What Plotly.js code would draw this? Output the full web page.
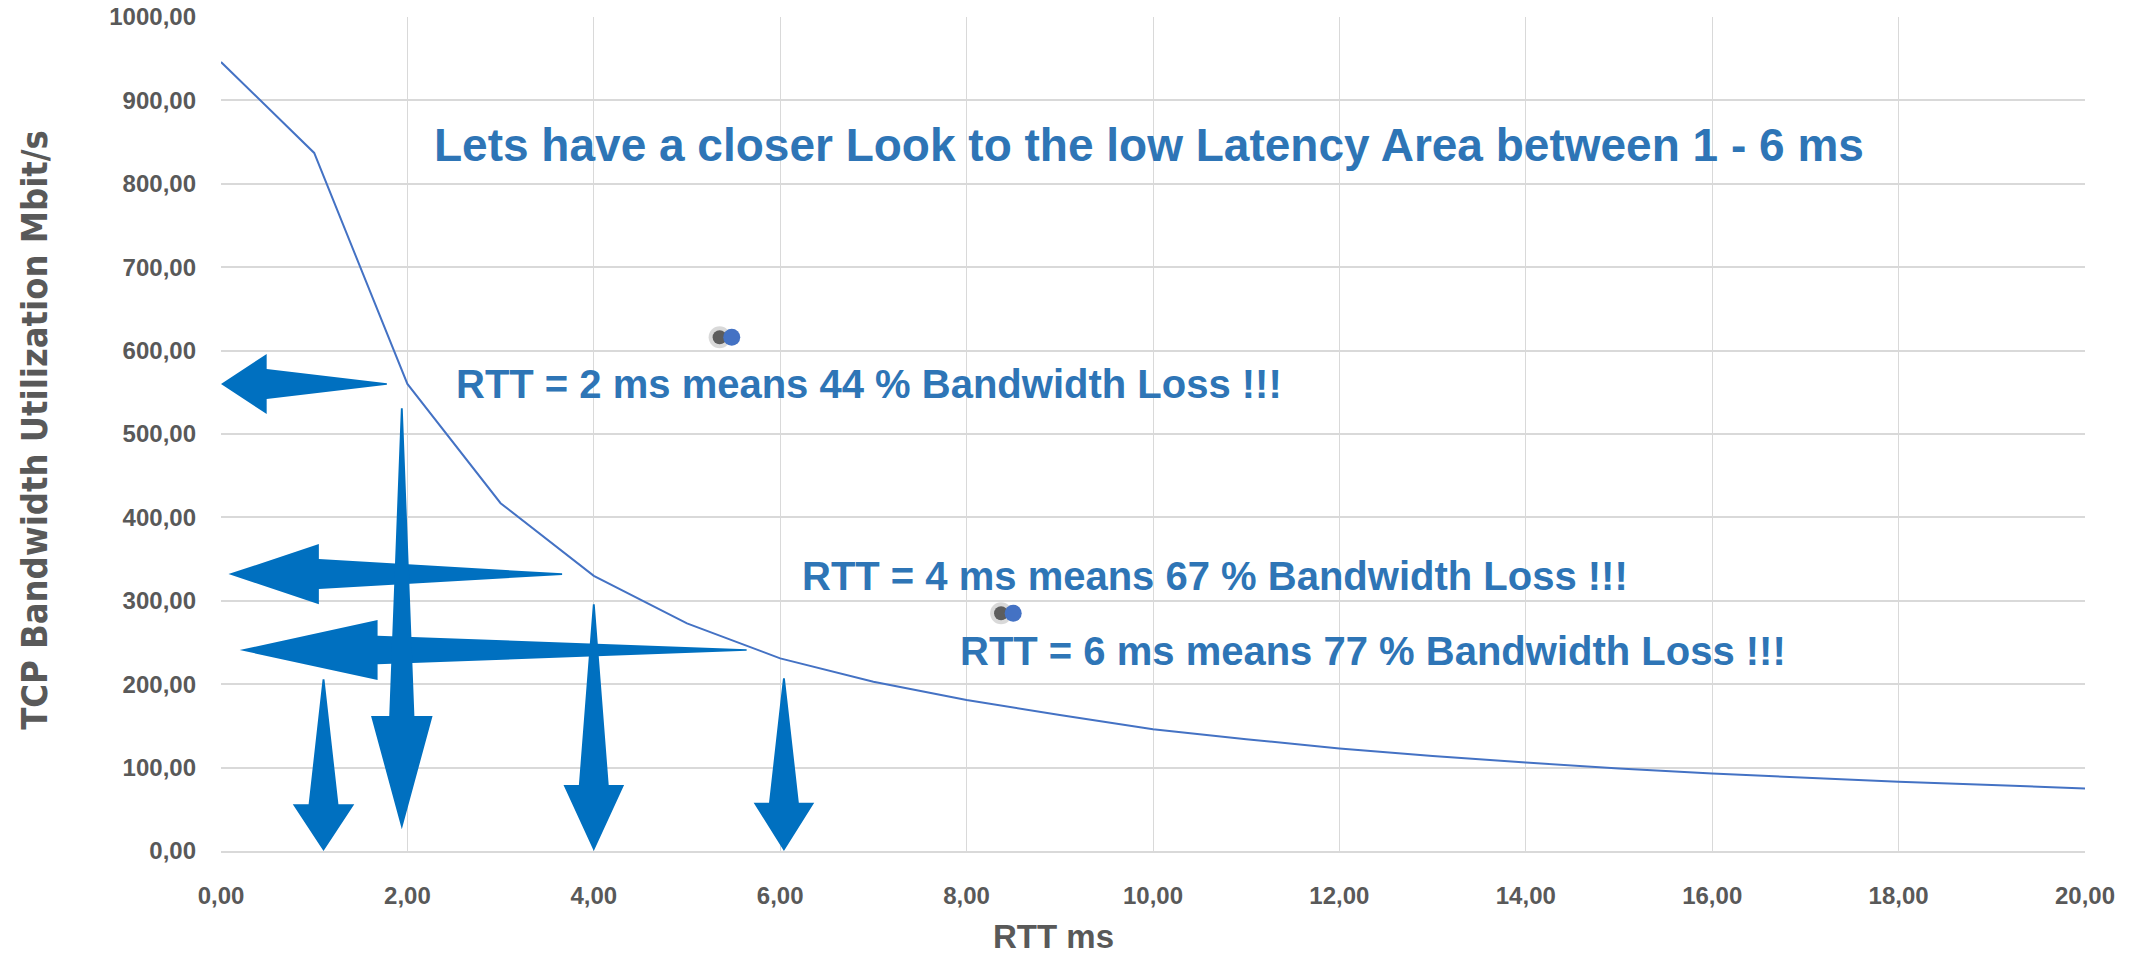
<!DOCTYPE html>
<html>
<head>
<meta charset="utf-8">
<script src="https://cdn.plot.ly/plotly-3.0.1.min.js"></script>
<style>
  html, body { margin: 0; padding: 0; background: #ffffff; }
  #chart { width: 2136px; height: 955px; }
</style>
</head>
<body>
<div id="chart"></div>
<script>
// ---- data ----
const rttMs = [0, 1, 2, 3, 4, 5, 6, 7, 8, 9, 10, 11, 12, 13, 14, 15, 16, 17, 18, 19, 20];
const bandwidthMbit = [946, 837, 560, 417, 330, 273, 231, 203, 181, 163, 146, 134, 123, 114, 106, 99, 93, 88, 83, 79, 75];

const dotX = [5.48, 8.50];
const dotY = [616, 285];

const xTickVals = [0, 2, 4, 6, 8, 10, 12, 14, 16, 18, 20];
const xTickText = ["0,00", "2,00", "4,00", "6,00", "8,00", "10,00", "12,00", "14,00", "16,00", "18,00", "20,00"];
const yTickVals = [0, 100, 200, 300, 400, 500, 600, 700, 800, 900, 1000];
const yTickText = ["0,00", "100,00", "200,00", "300,00", "400,00", "500,00", "600,00", "700,00", "800,00", "900,00", "1000,00"];

const titleText = "Lets have a closer Look to the low Latency Area between 1 - 6 ms";
const noteTexts = [
  "RTT = 2 ms means 44 % Bandwidth Loss !!!",
  "RTT = 4 ms means 67 % Bandwidth Loss !!!",
  "RTT = 6 ms means 77 % Bandwidth Loss !!!"
];
const noteX = [2.50, 6.21, 7.91];
const noteY = [560, 330, 240];

// block arrows (data units): tip, head base, tail, shaft half width, head half width
const leftArrowTipX  = [0.00, 0.08, 0.20];
const leftArrowY     = [560, 332, 241];
const leftArrowBaseX = [0.49, 1.05, 1.68];
const leftArrowTailX = [1.78, 3.66, 5.64];
const leftArrowShaft = [18, 18, 17];
const leftArrowHead  = [36, 36, 36];

const downArrowX     = [1.10, 1.94, 4.00, 6.04];
const downArrowTipY  = [0, 26, 0, 0];
const downArrowBaseY = [56, 162, 79, 58];
const downArrowTailY = [206, 531, 296, 207];
const downArrowShaft = [0.16, 0.135, 0.16, 0.16];
const downArrowHead  = [0.33, 0.33, 0.325, 0.325];

// ---- styles ----
const grey = "#595959";
const blueText = "#2E75B6";
const arrowBlue = "#0070C0";
const lineBlue = "#4472C4";
const tickFont = { family: "Liberation Sans, Arial, sans-serif", size: 24, color: grey, weight: "bold" };

const shapes = [];
for (let i = 0; i < leftArrowTipX.length; i++) {
  const y = leftArrowY[i], t = leftArrowTipX[i], b = leftArrowBaseX[i], l = leftArrowTailX[i];
  const s = leftArrowShaft[i], h = leftArrowHead[i];
  shapes.push({
    type: "path", xref: "x", yref: "y", layer: "above",
    path: `M ${t},${y} L ${b},${y + h} L ${b},${y + s} L ${l},${y + 1} L ${l},${y - 1} L ${b},${y - s} L ${b},${y - h} Z`,
    fillcolor: arrowBlue, line: { width: 0 }
  });
}
for (let i = 0; i < downArrowX.length; i++) {
  const x = downArrowX[i], t = downArrowTipY[i], b = downArrowBaseY[i], l = downArrowTailY[i];
  const s = downArrowShaft[i], h = downArrowHead[i];
  shapes.push({
    type: "path", xref: "x", yref: "y", layer: "above",
    path: `M ${x},${t} L ${x - h},${b} L ${x - s},${b} L ${x - 0.01},${l} L ${x + 0.01},${l} L ${x + s},${b} L ${x + h},${b} Z`,
    fillcolor: arrowBlue, line: { width: 0 }
  });
}

const shadowShift = 0.13;
const traces = [
  {
    x: rttMs, y: bandwidthMbit, type: "scatter", mode: "lines",
    line: { color: lineBlue, width: 2 }, hoverinfo: "skip", showlegend: false
  },
  {
    x: dotX.map(v => v - shadowShift), y: dotY, type: "scatter", mode: "markers",
    marker: { size: 22, color: "rgba(0,0,0,0.15)" }, hoverinfo: "skip", showlegend: false
  },
  {
    x: dotX.map(v => v - shadowShift), y: dotY, type: "scatter", mode: "markers",
    marker: { size: 14, color: "rgba(40,40,40,0.7)" }, hoverinfo: "skip", showlegend: false
  },
  {
    x: dotX, y: dotY, type: "scatter", mode: "markers",
    marker: { size: 17, color: lineBlue }, hoverinfo: "skip", showlegend: false
  }
];

const annotations = [
  {
    text: titleText, xref: "x", yref: "y", x: 2.26, y: 847, xanchor: "left", yanchor: "middle",
    showarrow: false, font: { family: "Liberation Sans, Arial, sans-serif", size: 46, color: blueText, weight: "bold" }
  },
  {
    text: "TCP Bandwidth Utilization Mbit/s", xref: "paper", yref: "paper", x: 0, xshift: -186, y: 0.505,
    xanchor: "center", yanchor: "middle", textangle: -90, showarrow: false,
    font: { family: "DejaVu Sans Condensed, Liberation Sans, Arial, sans-serif", size: 36, color: grey, weight: "bold" }
  },
  {
    text: "RTT ms", xref: "paper", yref: "paper", x: 0.4464, y: -0.102, xanchor: "center", yanchor: "middle",
    showarrow: false, font: { family: "Liberation Sans, Arial, sans-serif", size: 33, color: grey, weight: "bold" }
  }
];
for (let i = 0; i < noteTexts.length; i++) {
  annotations.push({
    text: noteTexts[i], xref: "x", yref: "y", x: noteX[i], y: noteY[i], xanchor: "left", yanchor: "middle",
    showarrow: false, font: { family: "Liberation Sans, Arial, sans-serif", size: 40, color: blueText, weight: "bold" }
  });
}

const layout = {
  width: 2136, height: 955,
  margin: { l: 221, r: 51, t: 17, b: 104 },
  paper_bgcolor: "#ffffff", plot_bgcolor: "#ffffff",
  showlegend: false,
  xaxis: {
    range: [0, 20], tickvals: xTickVals, ticktext: xTickText,
    showgrid: true, gridcolor: "#D9D9D9", gridwidth: 1,
    zeroline: false, showline: true, linecolor: "#D9D9D9", linewidth: 2,
    ticks: "", ticklabelstandoff: 22, tickfont: tickFont, fixedrange: true
  },
  yaxis: {
    range: [0, 1000], tickvals: yTickVals, ticktext: yTickText,
    showgrid: true, gridcolor: "#D9D9D9", gridwidth: 2,
    zeroline: false, showline: false,
    ticks: "", ticklabelstandoff: 24, tickfont: tickFont, fixedrange: true
  },
  shapes: shapes,
  annotations: annotations
};

Plotly.newPlot("chart", traces, layout, { displayModeBar: false, staticPlot: true });
</script>
</body>
</html>
